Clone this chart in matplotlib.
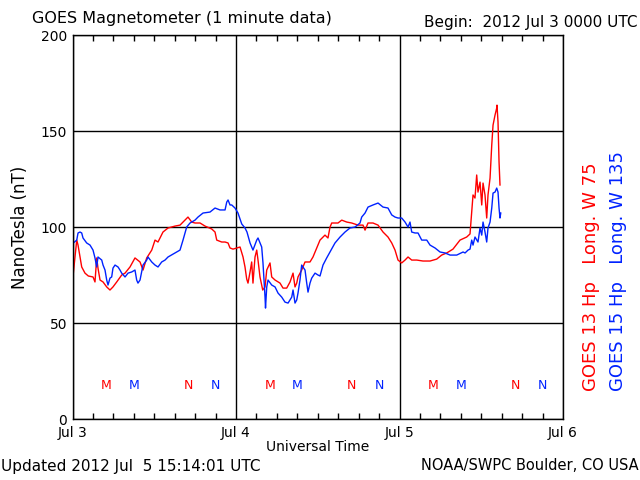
import numpy as np
import matplotlib
matplotlib.use('Agg')
import matplotlib.pyplot as plt

# hours since 2012 Jul 3 00:00 UTC, field in nT
g13_hours = [0.0, 0.12, 0.62, 0.81, 1.35, 1.83, 2.32, 3.01, 3.30, 3.55, 3.74, 4.04, 4.48, 5.02, 5.50,
             5.94, 6.49, 7.22, 7.71, 8.44, 9.17, 9.91, 10.35, 10.89, 11.63, 12.11, 12.55, 13.28, 14.02,
             15.05, 15.78, 16.51, 16.95, 17.50, 17.98, 18.72, 19.45, 20.43, 20.92, 21.17, 21.90, 22.39,
             22.83, 23.12, 23.56, 24.59, 25.03, 25.32, 25.57, 25.76, 26.06, 26.30, 26.49, 26.79, 27.04,
             27.23, 27.52, 27.92, 28.26, 28.51, 28.99, 29.24, 29.73, 30.46, 30.90, 31.44, 31.93, 32.37,
             32.66, 32.91, 33.10, 33.64, 34.13, 34.86, 35.30, 35.85, 36.33, 36.77, 37.06, 37.50, 37.80,
             38.05, 38.97, 39.52, 40.25, 40.98, 41.91, 42.64, 42.94, 43.38, 44.11, 44.85, 45.58, 46.31,
             46.86, 47.34, 47.78, 48.32, 48.81, 49.25, 49.79, 50.53, 51.45, 52.48, 53.46, 54.19, 54.93,
             55.85, 56.88, 57.86, 58.35, 58.60, 58.79, 59.08, 59.33, 59.52, 59.82, 60.07, 60.26, 60.55,
             60.80, 60.99, 61.29, 61.54, 61.73, 62.02, 62.27, 62.31, 62.46, 62.61, 62.75]
g13_nt = [78.6, 76.0, 93.2, 90.6, 79.2, 76.0, 74.5, 74.0, 71.4, 83.9, 78.6, 72.4, 71.4, 68.8, 67.2,
          68.8, 71.4, 75.0, 76.0, 79.2, 83.9, 81.8, 77.6, 83.9, 88.0, 93.2, 92.2, 97.4, 99.5,
          100.5, 101.0, 103.6, 105.2, 102.6, 102.1, 102.1, 100.5, 99.0, 97.4, 93.2, 92.2, 92.2,
          91.7, 89.1, 88.5, 89.6, 84.4, 79.2, 72.9, 70.8, 76.6, 81.8, 70.8, 84.4, 88.0,
          82.8, 74.0, 67.2, 68.8, 77.6, 81.3, 74.0, 72.4, 70.8, 68.2, 68.2, 71.4, 76.0,
          68.8, 70.8, 74.0, 77.6, 81.8, 81.8, 84.4, 89.1, 93.2, 94.8, 95.8, 94.3, 100.0,
          102.1, 102.1, 103.6, 102.6, 102.1, 101.0, 101.0, 98.4, 102.1, 102.1, 101.0, 97.4, 94.8,
          91.7, 88.0, 82.8, 81.3, 82.8, 84.4, 82.8, 82.8, 82.3, 82.3, 83.3, 85.4, 86.5,
          88.5, 93.2, 94.8, 96.4, 107.8, 116.7, 115.1, 127.1, 118.2, 123.4, 111.5, 122.9, 116.7,
          104.7, 116.7, 125.5, 142.7, 153.1, 158.3, 162.0, 163.5, 154.7, 133.9, 121.9]

g15_hours = [0.0, 0.12, 0.62, 0.81, 1.10, 1.35, 1.54, 2.08, 2.57, 3.01, 3.30, 3.55, 3.74, 4.29, 4.48,
             4.77, 5.02, 5.21, 5.50, 5.75, 5.94, 6.24, 6.68, 6.97, 7.22, 7.71, 8.15, 8.69, 9.17, 9.42,
             9.61, 9.91, 10.35, 10.89, 11.08, 11.63, 12.11, 12.55, 13.09, 13.58, 14.02, 15.05, 15.78,
             16.22, 16.76, 17.25, 17.98, 18.42, 19.16, 20.18, 20.92, 21.65, 22.39, 22.64, 22.83, 23.12,
             23.37, 23.85, 24.29, 24.84, 25.32, 25.61, 26.06, 26.49, 27.04, 27.23, 27.77, 27.96, 28.26,
             28.33, 28.51, 28.70, 29.24, 29.73, 30.17, 30.71, 31.19, 31.64, 32.18, 32.37, 32.66, 32.91,
             33.10, 33.39, 33.64, 33.83, 34.13, 34.38, 34.57, 34.86, 35.11, 35.60, 36.04, 36.33, 36.77,
             37.31, 37.80, 38.53, 39.27, 40.00, 40.73, 41.47, 42.20, 42.45, 42.94, 43.38, 44.11, 44.85,
             45.58, 46.31, 46.86, 47.34, 47.78, 48.32, 48.81, 49.25, 49.54, 49.79, 50.28, 50.72, 51.26,
             52.00, 52.48, 53.21, 53.95, 54.68, 55.42, 56.40, 57.33, 57.62, 58.06, 58.35, 58.60, 58.79,
             59.08, 59.52, 59.82, 60.07, 60.26, 60.55, 60.80, 60.99, 61.29, 61.54, 61.73, 62.02, 62.27,
             62.46, 62.61, 62.75, 62.86]
g15_nt = [89.1, 91.7, 93.2, 96.9, 97.4, 96.9, 94.3, 91.7, 90.6, 88.0, 83.9, 79.2, 84.4, 82.8, 80.2,
          77.6, 72.4, 69.8, 73.4, 74.0, 78.6, 80.2, 79.2, 77.6, 76.0, 74.0, 76.0, 76.6, 77.6, 72.4,
          70.8, 72.4, 80.2, 82.8, 84.4, 81.8, 80.2, 79.2, 81.8, 82.8, 84.4, 86.5, 88.0,
          93.2, 100.0, 102.1, 103.6, 105.2, 107.3, 107.8, 109.9, 108.9, 108.9, 113.0, 114.1, 111.5,
          111.5, 109.9, 107.3, 101.6, 99.5, 97.4, 91.7, 88.0, 93.2, 94.3, 89.6, 81.3, 63.5,
          57.8, 68.8, 72.4, 69.8, 68.8, 65.6, 63.5, 60.9, 60.4, 63.5, 67.2, 60.4, 62.0,
          65.6, 72.4, 80.2, 79.2, 77.6, 70.8, 66.1, 70.8, 73.4, 76.0, 75.0, 74.5, 80.2,
          83.9, 87.0, 91.7, 94.8, 97.4, 99.5, 100.0, 102.1, 105.2, 107.3, 110.4, 111.5, 112.5,
          110.4, 109.9, 106.3, 105.2, 104.7, 104.7, 102.6, 100.0, 102.6, 97.4, 96.9, 96.9, 93.2,
          93.2, 90.6, 89.1, 87.0, 86.5, 85.4, 85.4, 87.0, 86.5, 88.0, 88.5, 93.2, 90.6,
          94.8, 92.2, 99.5, 95.8, 102.6, 97.4, 92.2, 99.5, 102.6, 109.9, 117.7, 118.2, 120.3,
          118.2, 109.9, 104.7, 107.3]

# local midnight (M) and noon (N) markers, hours UT
g13_m = [5, 29, 53]
g13_n = [17, 41, 65]
g15_m = [9, 33, 57]
g15_n = [21, 45, 69]

day_labels = ['Jul 3', 'Jul 4', 'Jul 5', 'Jul 6']

red = '#ff0000'
blue = '#0022ff'

fig = plt.figure(figsize=(6.4, 4.8), dpi=100)
ax = fig.add_axes([0.1133, 0.127, 0.7664, 0.8])

ax.plot(g13_hours, g13_nt, color=red, lw=1.0)
ax.plot(g15_hours, g15_nt, color=blue, lw=1.0)

for h in g13_m:
    ax.text(h, 17.5, 'M', color=red, ha='center', va='center', fontsize=9)
for h in g13_n:
    ax.text(h, 17.5, 'N', color=red, ha='center', va='center', fontsize=9)
for h in g15_m:
    ax.text(h, 17.5, 'M', color=blue, ha='center', va='center', fontsize=9)
for h in g15_n:
    ax.text(h, 17.5, 'N', color=blue, ha='center', va='center', fontsize=9)

ax.set_xlim(0, 72)
ax.set_ylim(0, 200)
ax.set_xticks([0, 24, 48, 72])
ax.set_xticklabels(day_labels)
ax.set_xticks(np.arange(0, 73, 3), minor=True)
ax.set_yticks([0, 50, 100, 150, 200])
ax.tick_params(axis='both', which='major', length=0, labelsize=10)
ax.tick_params(axis='x', which='major', pad=5)
ax.tick_params(axis='y', which='major', pad=4)
ax.tick_params(axis='x', which='minor', direction='in', length=4, top=True, bottom=True, width=1)
ax.grid(True, which='major', color='black', lw=1)
for s in ax.spines.values():
    s.set_linewidth(1)

ax.set_xlabel('Universal Time', fontsize=10, labelpad=0)
ax.set_ylabel('NanoTesla (nT)', fontsize=12, labelpad=8)

fig.text(32/640, 1 - 18/480, 'GOES Magnetometer (1 minute data)', fontsize=11.5, ha='left', va='center')
fig.text(638/640, 1 - 22/480, 'Begin:  2012 Jul 3 0000 UTC', fontsize=11, ha='right', va='center')
fig.text(1/640, 1 - 466/480, 'Updated 2012 Jul  5 15:14:01 UTC', fontsize=11, ha='left', va='center')
fig.text(639/640, 1 - 466/480, 'NOAA/SWPC Boulder, CO USA', fontsize=10.5, ha='right', va='center')

fig.text(591/640, 1 - 391/480, 'GOES 13 Hp   Long. W 75', color=red, fontsize=13,
         rotation=90, rotation_mode='anchor', ha='left', va='center')
fig.text(618/640, 1 - 391/480, 'GOES 15 Hp   Long. W 135', color=blue, fontsize=13,
         rotation=90, rotation_mode='anchor', ha='left', va='center')

fig.savefig('out.png', dpi=100)
